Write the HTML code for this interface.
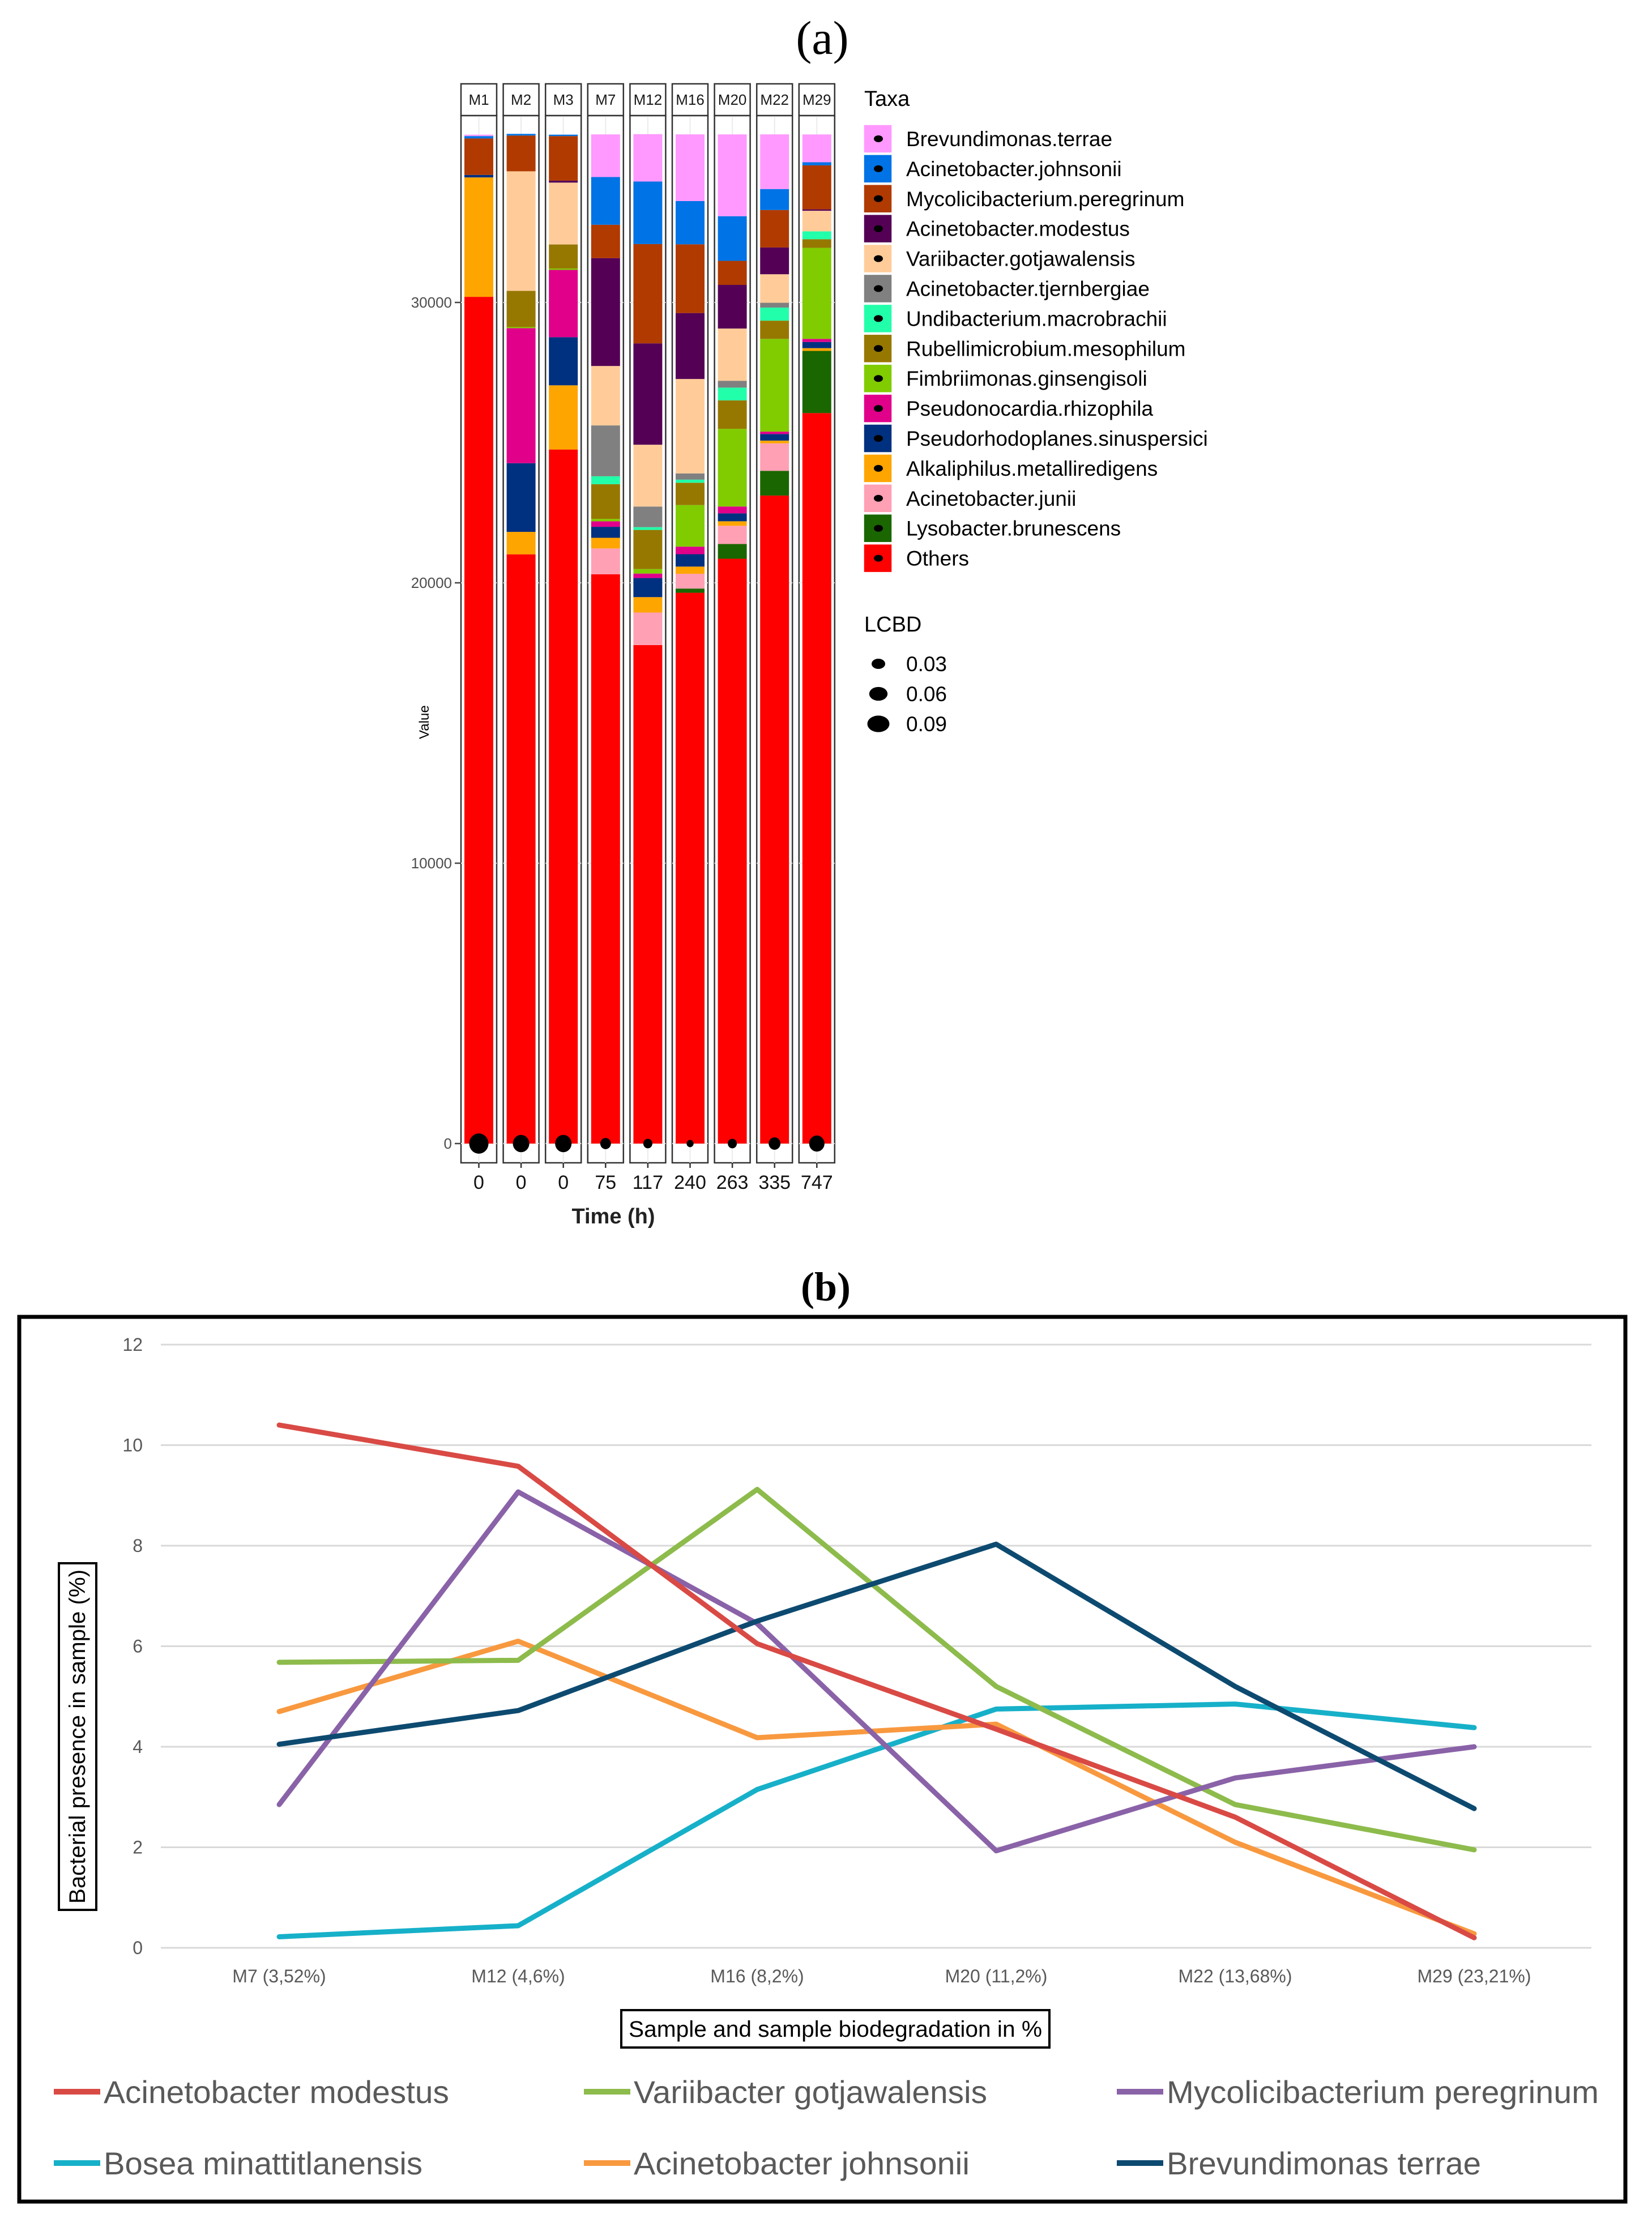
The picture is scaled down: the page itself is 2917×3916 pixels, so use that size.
<!DOCTYPE html>
<html><head><meta charset="utf-8"><style>
html,body{margin:0;padding:0;background:#fff}
svg{display:block}
</style></head><body>
<svg id="fig" xmlns="http://www.w3.org/2000/svg" width="2917" height="3916" viewBox="0 0 2917 3916">
<rect x="0" y="0" width="2917" height="3916" fill="#fff"/>
<text x="1452" y="95" text-anchor="middle" font-family="Liberation Serif, serif" font-size="84" fill="#000">(a)</text>
<text x="1458" y="2296" text-anchor="middle" font-family="Liberation Serif, serif" font-weight="bold" font-size="72" fill="#000">(b)</text>
<g id="chartA"></g>
<g id="chartB"></g>
</svg>
<script>
// ===== Chart A data =====
const samples = ["M1","M2","M3","M7","M12","M16","M20","M22","M29"];
const times = ["0","0","0","75","117","240","263","335","747"];
const taxa = ["Others","Lysobacter.brunescens","Acinetobacter.junii","Alkaliphilus.metalliredigens","Pseudorhodoplanes.sinuspersici","Pseudonocardia.rhizophila","Fimbriimonas.ginsengisoli","Rubellimicrobium.mesophilum","Undibacterium.macrobrachii","Acinetobacter.tjernbergiae","Variibacter.gotjawalensis","Acinetobacter.modestus","Mycolicibacterium.peregrinum","Acinetobacter.johnsonii","Brevundimonas.terrae"];
const taxaColors = ["#ff0000","#1a6600","#ffa0b4","#ffa500","#003080","#e0008a","#80cc00","#967800","#22ffaa","#808080","#ffcc99","#540055","#b03a00","#0073e6","#ff99ff"];
// values per sample, order = taxa (bottom to top)
const valM1  = [30200,0,0,4260,90,0,0,0,0,0,0,0,1300,85,50];
const valM2  = [21017,0,0,800,2450,4816,40,1290,0,0,4265,0,1275,60,0];
const valM3  = [24755,0,0,2290,1716,2400,50,858,0,0,2206,70,1590,50,0];
const valM7  = [20306,0,920,380,392,196,86,1238,282,1814,2120,3848,1189,1703,1520];
const valM12 = [17780,0,1160,550,680,160,160,1397,98,735,2206,3615,3542,2230,1690];
const valM16 = [19645,150,527,257,441,270,1483,797,110,220,3370,2353,2451,1544,2377];
const valM20 = [20858,527,650,160,282,245,2770,1017,453,245,1863,1556,858,1593,2917];
const valM22 = [23113,882,980,98,233,86,3309,650,466,172,1017,956,1336,748,1949];
const valM29 = [26054,2218,0,98,220,110,3248,306,282,0,735,50,1569,110,993];
const lcbd = [0.067,0.047,0.047,0.016,0.0097,0.003,0.0097,0.021,0.040];
const yTicksA = [0,10000,20000,30000];
const lcbdLegend = [0.03,0.06,0.09];

// ===== Chart B data =====
const bCategories = ["M7 (3,52%)","M12 (4,6%)","M16 (8,2%)","M20 (11,2%)","M22 (13,68%)","M29 (23,21%)"];
const bSeriesNames = ["Acinetobacter modestus","Variibacter gotjawalensis","Mycolicibacterium peregrinum","Bosea minattitlanensis","Acinetobacter johnsonii","Brevundimonas terrae"];
const bModestus = [10.4,9.58,6.05,4.35,2.6,0.2];
const bVariibacter = [5.68,5.72,9.12,5.2,2.85,1.95];
const bMycolici = [2.85,9.07,6.45,1.93,3.38,4.0];
const bBosea = [0.22,0.44,3.15,4.75,4.85,4.38];
const bJohnsonii = [4.7,6.1,4.18,4.45,2.1,0.28];
const bBrevund = [4.05,4.72,6.5,8.03,5.2,2.77];
const bYTicks = [0,2,4,6,8,10,12];
const bColors = ["#d94a45","#8dbb4c","#8a62a8","#17b0c9","#f8993f","#0d4a70"];

const NS="http://www.w3.org/2000/svg";
function mk(tag, attrs, parent){const e=document.createElementNS(NS,tag);for(const k in attrs)e.setAttribute(k,attrs[k]);parent.appendChild(e);return e;}

// ---------- Chart A ----------
(function(){
const g=document.getElementById('chartA');
const allVals=[valM1,valM2,valM3,valM7,valM12,valM16,valM20,valM22,valM29];
const y0=2019, pxPer=495/10000;
const yA=v=>y0-v*pxPer;
const panelX0=814, pitch=74.6, panelW=63, stripTop=148, stripBot=204, panelBot=2053;
const font='Liberation Sans, Arial, sans-serif';
yTicksA.forEach(t=>{
  const y=yA(t);
  const tk=mk('line',{x1:803,x2:814,y1:y,y2:y,stroke:'#444','stroke-width':2.5},g);
  
  
  const tx=mk('text',{x:798,y:y+9,'text-anchor':'end','font-family':font,'font-size':26,fill:'#4d4d4d'},g);
  tx.textContent=t;
  
  
});
const yt=mk('text',{x:757,y:1275,'text-anchor':'middle','font-family':font,'font-size':24,fill:'#000',transform:'rotate(-90 757 1275)'},g);
yt.textContent='Value';


samples.forEach((s,i)=>{
  const px=panelX0+i*pitch;
  const cx=px+panelW/2;
  const p=mk('rect',{x:px,y:stripBot,width:panelW,height:panelBot-stripBot,fill:'#fff',stroke:'#333','stroke-width':2.5},g);
  
  
  yTicksA.forEach(t=>{
    const gl=mk('line',{x1:px,x2:px+panelW,y1:yA(t),y2:yA(t),stroke:'#ebebeb','stroke-width':2},g);
    
    
  });
  const vg=mk('line',{x1:cx,x2:cx,y1:stripBot,y2:panelBot,stroke:'#ebebeb','stroke-width':2},g);
  
  
  const st=mk('rect',{x:px,y:stripTop,width:panelW,height:stripBot-stripTop,fill:'#fff',stroke:'#333','stroke-width':2.5},g);
  
  
  const sl=mk('text',{x:cx,y:185,'text-anchor':'middle','font-family':font,'font-size':26,fill:'#1a1a1a'},g);
  sl.textContent=s;
  
  
  let cum=0;
  const vals=allVals[i];
  vals.forEach((v,j)=>{
    if(v<=0)return;
    const r=mk('rect',{x:px+6,y:yA(cum+v),width:panelW-12,height:v*pxPer,fill:taxaColors[j]},g);
    
    
    cum+=v;
  });
  const d=Math.sqrt(Math.max(100,576+(lcbd[i]-0.03)*15750));
  const c=mk('ellipse',{cx:cx,cy:y0,rx:d/2,ry:d/2*1.05,fill:'#000'},g);
  
  
  const xt=mk('line',{x1:cx,x2:cx,y1:panelBot,y2:panelBot+9,stroke:'#333','stroke-width':2.5},g);
  
  
  const tl=mk('text',{x:cx,y:2099,'text-anchor':'middle','font-family':'Liberation Sans Narrow, Liberation Sans, sans-serif','font-size':34,fill:'#111'},g);
  tl.textContent=times[i];
  
  
});
const xt=mk('text',{x:1083,y:2160,'text-anchor':'middle','font-family':'Liberation Sans Narrow, Liberation Sans, sans-serif','font-size':38,'font-weight':'bold',fill:'#222'},g);
xt.textContent='Time (h)';


const lt=mk('text',{x:1526,y:187,'font-family':font,'font-size':38,fill:'#000'},g);
lt.textContent='Taxa';


for(let k=0;k<taxa.length;k++){
  const j=taxa.length-1-k;
  const cy=245+k*52.9;
  const sw=mk('rect',{x:1525,y:cy-25,width:50,height:50,fill:taxaColors[j],stroke:'#fff','stroke-width':1.5},g);
  
  
  const dt=mk('ellipse',{cx:1551,cy:cy,rx:8,ry:6,fill:'#000'},g);
  
  
  const tx=mk('text',{x:1600,y:cy+13,'font-family':font,'font-size':37,fill:'#000'},g);
  tx.textContent=taxa[j];
  
  
}
const lb=mk('text',{x:1526,y:1115,'font-family':font,'font-size':38,fill:'#000'},g);
lb.textContent='LCBD';


lcbdLegend.forEach((v,k)=>{
  const cy=1172+k*53;
  const d=Math.sqrt(576+(v-0.03)*15750);
  const c=mk('ellipse',{cx:1551,cy:cy,rx:d/2,ry:d/2*0.75,fill:'#000'},g);
  
  
  const tx=mk('text',{x:1600,y:cy+13,'font-family':font,'font-size':37,fill:'#000'},g);
  tx.textContent=v.toFixed(2);
  
  
});
})();

// ---------- Chart B ----------
(function(){
const g=document.getElementById('chartB');
const narrow='Liberation Sans Narrow, Liberation Sans, sans-serif';
const box=mk('rect',{x:34,y:2325,width:2836,height:1562,fill:'#fff',stroke:'#000','stroke-width':7},g);


const yB=v=>3439-v*88.75;
const xB=i=>493+i*422;
bYTicks.forEach(t=>{
  const gl=mk('line',{x1:284,x2:2810,y1:yB(t),y2:yB(t),stroke:'#d9d9d9','stroke-width':3},g);
  
  
  const tx=mk('text',{x:252,y:yB(t)+11,'text-anchor':'end','font-family':narrow,'font-size':32,fill:'#595959'},g);
  tx.textContent=t;
  
  
});
bCategories.forEach((c,i)=>{
  const tx=mk('text',{x:xB(i),y:3500,'text-anchor':'middle','font-family':narrow,'font-size':32,fill:'#595959'},g);
  tx.textContent=c;
  
  
});
const series=[bModestus,bVariibacter,bMycolici,bBosea,bJohnsonii,bBrevund];
const drawOrder=[3,4,1,2,5,0];
drawOrder.forEach(k=>{
  const pts=series[k].map((v,i)=>xB(i)+','+yB(v)).join(' ');
  const pl=mk('polyline',{points:pts,fill:'none',stroke:bColors[k],'stroke-width':9,'stroke-linejoin':'round','stroke-linecap':'round'},g);
  
  
});
const yb=mk('rect',{x:104,y:2760,width:66,height:612,fill:'#fff',stroke:'#000','stroke-width':4},g);


const yt=mk('text',{x:150,y:3066,'text-anchor':'middle','font-family':narrow,'font-size':40,fill:'#000',transform:'rotate(-90 150 3066)',textLength:590,lengthAdjust:'spacingAndGlyphs'},g);
yt.textContent='Bacterial presence in sample (%)';


const xb=mk('rect',{x:1097,y:3549,width:756,height:66,fill:'#fff',stroke:'#000','stroke-width':4},g);


const xt=mk('text',{x:1475,y:3596,'text-anchor':'middle','font-family':narrow,'font-size':40,fill:'#000',textLength:730,lengthAdjust:'spacingAndGlyphs'},g);
xt.textContent='Sample and sample biodegradation in %';


const legPos=[[95,3693,610],[1031,3693,624],[1972,3693,763],[95,3819,563],[1031,3819,593],[1972,3819,555]];
bSeriesNames.forEach((n,k)=>{
  const p=legPos[k];
  const ln=mk('line',{x1:p[0],x2:p[0]+82,y1:p[1],y2:p[1],stroke:bColors[k],'stroke-width':10},g);
  
  
  const tx=mk('text',{x:p[0]+88,y:p[1]+20,'font-family':narrow,'font-size':56,fill:'#595959',textLength:p[2],lengthAdjust:'spacingAndGlyphs'},g);
  tx.textContent=n;
  
  
});
})();
</script>
</body></html>
